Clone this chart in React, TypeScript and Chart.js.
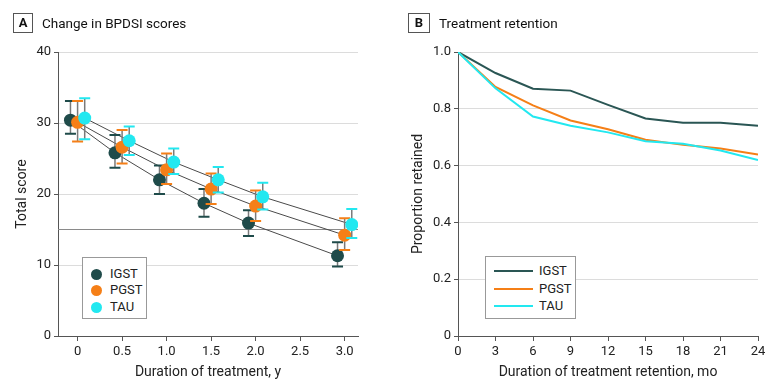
import React, { useEffect, useRef } from "react";
import { Chart, registerables } from "chart.js";

Chart.register(...registerables);

const FONT = "Roboto, 'Liberation Sans', Arial, sans-serif";

// ---------- Panel A data ----------
const timepointsA = [0, 0.5, 1, 1.5, 2, 3];
const xTicksA = ["0", "0.5", "1.0", "1.5", "2.0", "2.5", "3.0"];
const groups = ["IGST", "PGST", "TAU"];
const colors = ["#1f4b4a", "#f57f17", "#22e8f0"];
const dodgeA = [-0.08, 0, 0.08];
const igstMean = [30.4, 25.8, 22.0, 18.7, 15.9, 11.3];
const igstLow = [28.5, 23.7, 20.0, 16.8, 14.1, 9.8];
const igstHigh = [33.1, 28.3, 24.0, 20.7, 17.7, 13.2];
const pgstMean = [30.1, 26.6, 23.4, 20.7, 18.3, 14.2];
const pgstLow = [27.4, 24.3, 21.4, 18.6, 16.2, 12.1];
const pgstHigh = [33.1, 29.0, 25.7, 22.9, 20.5, 16.6];
const tauMean = [30.7, 27.5, 24.5, 22.0, 19.6, 15.7];
const tauLow = [27.7, 25.5, 22.8, 20.2, 17.8, 13.8];
const tauHigh = [33.5, 29.5, 26.4, 23.8, 21.6, 17.9];
const thresholdA = 15;

// ---------- Panel B data ----------
const monthsB = [0, 3, 6, 9, 12, 15, 18, 21, 24];
const igstRetention = [1.0, 0.926, 0.871, 0.864, 0.814, 0.766, 0.751, 0.751, 0.74];
const pgstRetention = [1.0, 0.877, 0.812, 0.759, 0.728, 0.691, 0.673, 0.66, 0.639];
const tauRetention = [1.0, 0.872, 0.773, 0.74, 0.717, 0.686, 0.677, 0.653, 0.62];

const meansA = [igstMean, pgstMean, tauMean];
const lowsA = [igstLow, pgstLow, tauLow];
const highsA = [igstHigh, pgstHigh, tauHigh];
const retentionB = [igstRetention, pgstRetention, tauRetention];

const errorBarPlugin = {
  id: "errorBars",
  beforeDatasetDraw(chart: any, args: any) {
    const ds = chart.data.datasets[args.index];
    if (!ds.errorBars) return;
    const { ctx } = chart;
    const x = chart.scales.x;
    const y = chart.scales.y;
    ctx.save();
    ds.data.forEach((p: any) => {
      const px = x.getPixelForValue(p.x);
      const top = y.getPixelForValue(p.hi);
      const bot = y.getPixelForValue(p.lo);
      ctx.strokeStyle = "#7a7a7a";
      ctx.lineWidth = 1.5;
      ctx.beginPath();
      ctx.moveTo(px, top);
      ctx.lineTo(px, bot);
      ctx.stroke();
      ctx.strokeStyle = ds.pointBackgroundColor;
      ctx.lineWidth = 2;
      ctx.beginPath();
      ctx.moveTo(px - 5.5, top);
      ctx.lineTo(px + 5.5, top);
      ctx.moveTo(px - 5.5, bot);
      ctx.lineTo(px + 5.5, bot);
      ctx.stroke();
    });
    ctx.restore();
  },
};

const refLinePlugin = {
  id: "refLine",
  beforeDatasetsDraw(chart: any) {
    const { ctx, chartArea } = chart;
    const py = chart.scales.y.getPixelForValue(thresholdA);
    ctx.save();
    ctx.strokeStyle = "#8a8a8a";
    ctx.lineWidth = 1.2;
    ctx.beginPath();
    ctx.moveTo(chartArea.left, py);
    ctx.lineTo(chartArea.right, py);
    ctx.stroke();
    ctx.restore();
  },
};

const tickFont = { family: FONT, size: 13 };
const titleFont = { family: FONT, size: 14 };
const gridColor = (c: any) => (c.tick && c.tick.value === 0 ? "rgba(0,0,0,0)" : "#dcdcdc");

export default function App() {
  const refA = useRef<HTMLCanvasElement>(null);
  const refB = useRef<HTMLCanvasElement>(null);

  useEffect(() => {
    const lineSets = groups.map((g, gi) => ({
      type: "scatter" as const,
      label: g + " trend",
      data: timepointsA.map((t, i) => ({ x: t + dodgeA[gi], y: meansA[gi][i] })),
      showLine: true,
      borderColor: "#4a4a4a",
      borderWidth: 1,
      pointRadius: 0,
      order: 10,
    }));
    const pointSets = groups.map((g, gi) => ({
      type: "scatter" as const,
      label: g,
      errorBars: true,
      data: timepointsA.map((t, i) => ({
        x: t + dodgeA[gi],
        y: meansA[gi][i],
        lo: lowsA[gi][i],
        hi: highsA[gi][i],
      })),
      showLine: false,
      pointRadius: 6.5,
      pointBackgroundColor: colors[gi],
      pointBorderWidth: 0,
      order: 5 - gi,
    }));

    const a = new Chart(refA.current!, {
      type: "scatter",
      data: { datasets: [...lineSets, ...pointSets] as any },
      options: {
        responsive: false,
        animation: false,
        layout: { padding: { left: 0, right: 32, top: 52, bottom: 0 } },
        plugins: { legend: { display: false }, tooltip: { enabled: false } },
        scales: {
          x: {
            type: "linear",
            min: -0.22,
            max: 3.15,
            afterFit: (s: any) => {
              s.height = 55;
            },
            ticks: {
              stepSize: 0.5,
              includeBounds: false,
              color: "#222",
              font: tickFont,
              padding: 3,
              maxRotation: 0,
              callback: (v: any) => xTicksA[Math.round(Number(v) * 2)] ?? "",
            },
            grid: { drawOnChartArea: false, tickColor: "#555", tickLength: 5 },
            border: { color: "#555", width: 1 },
            title: {
              display: true,
              text: "Duration of treatment, y",
              color: "#222",
              font: titleFont,
              padding: { top: 0, bottom: 10 },
            },
          },
          y: {
            min: 0,
            max: 40,
            afterFit: (s: any) => {
              s.width = 58;
            },
            ticks: { stepSize: 10, color: "#222", font: tickFont, padding: 3 },
            grid: { color: gridColor, tickColor: "#555", tickLength: 4 },
            border: { color: "#555", width: 1 },
            title: {
              display: true,
              text: "Total score",
              color: "#222",
              font: titleFont,
              padding: { top: 14, bottom: 0 },
            },
          },
        },
      },
      plugins: [refLinePlugin, errorBarPlugin],
    } as any);

    const b = new Chart(refB.current!, {
      type: "line",
      data: {
        datasets: groups.map((g, gi) => ({
          label: g,
          data: monthsB.map((m, i) => ({ x: m, y: retentionB[gi][i] })),
          borderColor: colors[gi] === "#1f4b4a" ? "#2a5654" : colors[gi],
          borderWidth: 2,
          pointRadius: 0,
          fill: false,
          tension: 0,
          order: 5 - gi,
        })),
      },
      options: {
        responsive: false,
        animation: false,
        layout: { padding: { left: 0, right: 22, top: 52, bottom: 0 } },
        plugins: { legend: { display: false }, tooltip: { enabled: false } },
        scales: {
          x: {
            type: "linear",
            min: 0,
            max: 24,
            afterFit: (s: any) => {
              s.height = 55;
            },
            ticks: { stepSize: 3, color: "#222", font: tickFont, padding: 3, maxRotation: 0 },
            grid: { drawOnChartArea: false, tickColor: "#555", tickLength: 5 },
            border: { color: "#555", width: 1 },
            title: {
              display: true,
              text: "Duration of treatment retention, mo",
              color: "#222",
              font: titleFont,
              padding: { top: 0, bottom: 10 },
            },
          },
          y: {
            min: 0,
            max: 1,
            afterFit: (s: any) => {
              s.width = 68;
            },
            ticks: {
              stepSize: 0.2,
              color: "#222",
              font: tickFont,
              padding: 3,
              callback: (v: any) => (Number(v) === 0 ? "0" : Number(v).toFixed(1)),
            },
            grid: { color: gridColor, tickColor: "#555", tickLength: 4 },
            border: { color: "#555", width: 1 },
            title: {
              display: true,
              text: "Proportion retained",
              color: "#222",
              font: titleFont,
              padding: { top: 20, bottom: 0 },
            },
          },
        },
      },
    } as any);

    return () => {
      a.destroy();
      b.destroy();
    };
  }, []);

  const boxStyle = (left: number, width: number): React.CSSProperties => ({
    position: "absolute",
    left,
    top: 13,
    width,
    height: 20,
    boxSizing: "border-box",
    border: "1px solid #555",
    fontWeight: 700,
    fontSize: 13,
    lineHeight: "18px",
    textAlign: "center",
    color: "#111",
  });
  const headStyle = (left: number): React.CSSProperties => ({
    position: "absolute",
    left,
    top: 13,
    height: 20,
    lineHeight: "20px",
    fontSize: 13.5,
    color: "#111",
    whiteSpace: "nowrap",
  });
  const legendText: React.CSSProperties = { fontSize: 13, color: "#222", lineHeight: "16px" };

  return (
    <div
      style={{
        position: "absolute",
        left: 0,
        top: 0,
        width: 780,
        height: 391,
        background: "#fff",
        fontFamily: FONT,
        overflow: "hidden",
      }}
    >
      <canvas ref={refA} width={390} height={391} style={{ position: "absolute", left: 0, top: 0, width: 390, height: 391 }} />
      <canvas ref={refB} width={390} height={391} style={{ position: "absolute", left: 390, top: 0, width: 390, height: 391 }} />

      <div style={boxStyle(13, 20)}>A</div>
      <div style={headStyle(42)}>Change in BPDSI scores</div>
      <div style={boxStyle(408, 22)}>B</div>
      <div style={headStyle(439)}>Treatment retention</div>

      {/* Legend A */}
      <div
        style={{
          position: "absolute",
          left: 82,
          top: 257,
          width: 65,
          height: 62,
          boxSizing: "border-box",
          border: "1px solid #999",
          background: "#fff",
        }}
      >
        {groups.map((g, gi) => (
          <div key={g} style={{ position: "absolute", left: 0, top: 8 + gi * 16.4, height: 16, width: 63 }}>
            <div
              style={{
                position: "absolute",
                left: 8,
                top: 3,
                width: 11,
                height: 11,
                borderRadius: "50%",
                background: colors[gi],
              }}
            />
            <div style={{ ...legendText, position: "absolute", left: 27, top: 0 }}>{g}</div>
          </div>
        ))}
      </div>

      {/* Legend B */}
      <div
        style={{
          position: "absolute",
          left: 485,
          top: 256,
          width: 91,
          height: 63,
          boxSizing: "border-box",
          border: "1px solid #999",
          background: "#fff",
        }}
      >
        {groups.map((g, gi) => (
          <div key={g} style={{ position: "absolute", left: 0, top: 6 + gi * 17.5, height: 16, width: 89 }}>
            <div
              style={{
                position: "absolute",
                left: 8,
                top: 7,
                width: 39,
                height: 2,
                background: gi === 0 ? "#2a5654" : colors[gi],
              }}
            />
            <div style={{ ...legendText, position: "absolute", left: 53, top: 0 }}>{g}</div>
          </div>
        ))}
      </div>
    </div>
  );
}
